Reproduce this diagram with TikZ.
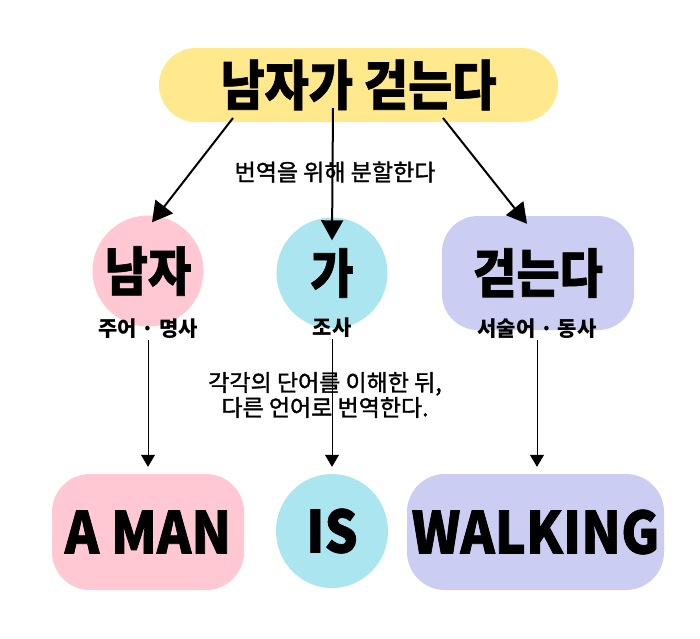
\documentclass[tikz,border=0pt]{standalone}
\usepackage{fontspec}
\setmainfont{Noto Sans CJK KR}
\newfontfamily\heavy{Noto Sans CJK KR}[BoldFeatures={FakeBold=1.3}]
\newfontfamily\medium{Noto Sans CJK KR}[FakeBold=1.5]
\usepackage{graphicx}
\usepackage{tikz}
\usetikzlibrary{arrows.meta,positioning,shapes.geometric}
\definecolor{titleyellow}{RGB}{255,233,140}
\definecolor{softpink}{RGB}{255,200,210}
\definecolor{softcyan}{RGB}{171,230,240}
\definecolor{softlav}{RGB}{204,205,242}
\newcommand{\eng}[1]{\scalebox{0.9}[1]{#1}}
\newcommand{\tall}[1]{\scalebox{1}[1.12]{#1}}
\tikzset{
  pill/.style={rectangle,rounded corners=37pt,minimum width=399pt,minimum height=74pt,inner sep=0pt,font=\fontsize{48}{48}\selectfont\heavy\bfseries},
  wordcircle/.style={circle,minimum size=111pt,inner sep=0pt,font=\fontsize{47}{47}\selectfont\heavy\bfseries},
  wordbox/.style={rectangle,rounded corners=36pt,minimum height=114pt,inner sep=0pt,font=\fontsize{47}{47}\selectfont\heavy\bfseries},
  engbox/.style={rectangle,rounded corners=38pt,minimum height=116pt,inner sep=0pt,font=\fontsize{58}{58}\selectfont\heavy\bfseries},
  engcircle/.style={ellipse,minimum width=112pt,minimum height=114pt,inner sep=0pt,font=\fontsize{58}{58}\selectfont\heavy\bfseries},
  role/.style={inner sep=1pt,font=\fontsize{21}{21}\selectfont\bfseries},
  note/.style={inner sep=1pt,align=center,font=\fontsize{23}{25}\selectfont\medium},
  bigarrow/.style={-{Triangle[length=20pt,width=22pt]},line width=2pt},
  smallarrow/.style={-{Triangle[length=12pt,width=14pt]},line width=1pt}
}

\begin{document}
\begin{tikzpicture}[x=1pt,y=-1pt]
\useasboundingbox (0,0) rectangle (700,638);
% Sentence
\node[pill,fill=titleyellow] (sent) at (358.5,85) {\tall{남자가 걷는다}};
% Korean parts
\node[wordcircle,fill=softpink] (nam) at (148,271) {\tall{남자}};
\node[wordcircle,fill=softcyan] (ga) at (332,273) {\tall{가}};
\node[wordbox,fill=softlav,minimum width=192pt] (geo) at (538,273) {\tall{걷는다}};
\node[role] (rnam) at (148,329) {주어 · 명사};
\node[role] (rga) at (332,328) {조사};
\node[role] (rgeo) at (537,329) {서술어 · 동사};
% English parts
\node[engbox,fill=softpink,minimum width=192pt] (aman) at (148,532) {\eng{A MAN}};
\node[engcircle,fill=softcyan] (is) at (332,531) {\eng{IS}};
\node[engbox,fill=softlav,minimum width=257pt] (walk) at (535.5,532) {\eng{WALKING}};
% split arrows
\coordinate (sl) at (233,118);
\coordinate (sm) at (333,108);
\coordinate (sr) at (443,118);
\draw[bigarrow] (sl) -- ([xshift=4pt,yshift=-7pt]nam.north);
\draw[bigarrow] (sm) -- ([yshift=-23pt]ga.north);
\draw[bigarrow] (sr) -- ([xshift=-11pt,yshift=-8pt]geo.north);
\node[note] (split) at (335,172) {번역을 위해 분할한다};
% translate arrows
\draw[smallarrow,shorten >=7pt] (rnam.south) -- (rnam.south |- aman.north);
\draw[smallarrow,shorten >=7pt] (rga.south) -- (rga.south |- is.north);
\draw[smallarrow,shorten >=7pt] (rgeo.south) -- (rgeo.south |- walk.north);
\node[note] (trans) at (325,395) {각각의 단어를 이해한 뒤,\\다른 언어로 번역한다.};
\end{tikzpicture}
\end{document}
